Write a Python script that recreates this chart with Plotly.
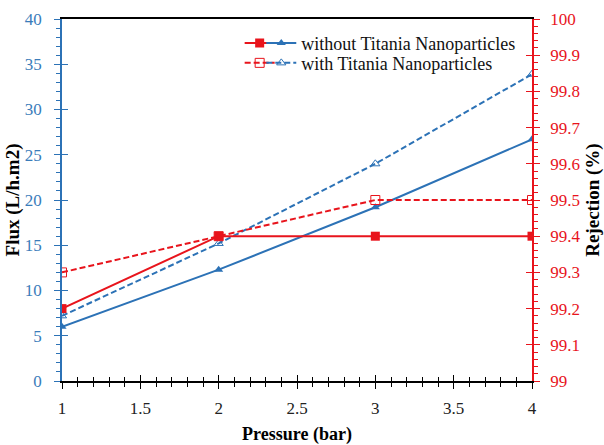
import plotly.graph_objects as go

pressure = [1, 2, 3, 4]
flux_without = [6.0, 12.3, 19.2, 26.7]
flux_with = [7.2, 15.2, 24.0, 33.9]
rej_without = [99.2, 99.4, 99.4, 99.4]
rej_with = [99.3, 99.4, 99.5, 99.5]

RED = "#e8141c"
BLUE = "#2c72b6"
BLUE_TXT = "#3a7cba"
FONT = "Liberation Serif, Times New Roman, serif"

fig = go.Figure()

fig.add_trace(go.Scatter(x=pressure, y=rej_without, mode="lines+markers", yaxis="y2",
                         line=dict(color=RED, width=2),
                         marker=dict(symbol="square", size=9, color=RED),
                         name=" ", legend="legend"))
fig.add_trace(go.Scatter(x=pressure, y=rej_with, mode="lines+markers", yaxis="y2",
                         line=dict(color=RED, width=2, dash="6px,3px"),
                         marker=dict(symbol="square-open", size=9, color=RED),
                         name=" ", legend="legend3"))
fig.add_trace(go.Scatter(x=pressure, y=flux_without, mode="lines+markers", yaxis="y",
                         line=dict(color=BLUE, width=2),
                         marker=dict(symbol="triangle-up", size=8, color=BLUE),
                         name="without Titania Nanoparticles", legend="legend2"))
fig.add_trace(go.Scatter(x=pressure, y=flux_with, mode="lines+markers", yaxis="y",
                         line=dict(color=BLUE, width=2, dash="6px,3px"),
                         marker=dict(symbol="triangle-up-open", size=8, color=BLUE),
                         name="with Titania Nanoparticles", legend="legend4"))

xtitlefont = dict(family=FONT, size=18, color="black", weight="bold")
ytitlefont = dict(family=FONT, size=19, color="black", weight="bold")
leg_common = dict(bgcolor="rgba(0,0,0,0)", font=dict(family=FONT, size=18, color="#111"),
                  itemwidth=30, yanchor="middle", xanchor="left")

RED_LEG_X = 0.378
BLUE_LEG_X = 0.424
ROW1_Y = 0.933
ROW2_Y = 0.878

fig.update_layout(
    width=604, height=445,
    margin=dict(l=62, r=72, t=19, b=64),
    paper_bgcolor="white", plot_bgcolor="white",
    font=dict(family=FONT, size=17),
    showlegend=True,
    xaxis=dict(range=[1, 4], dtick=0.5, tick0=1, showgrid=False, zeroline=False,
               showline=True, linecolor="black", linewidth=1.5, mirror=True,
               ticks="outside", ticklen=6, tickcolor="black", ticklabelstandoff=5,
               automargin=False,
               minor=dict(dtick=0.1, ticks="outside", ticklen=4, tickcolor="black"),
               tickfont=dict(family=FONT, size=17, color="#222"),
               title=dict(text="Pressure (bar)", font=xtitlefont, standoff=12)),
    xaxis2=dict(range=[1, 4], dtick=0.5, tick0=1, overlaying="x", showgrid=False,
                zeroline=False, showticklabels=False, ticks="inside", ticklen=6,
                tickcolor="black", side="bottom", automargin=False,
                minor=dict(dtick=0.1, ticks="inside", ticklen=4, tickcolor="black")),
    yaxis=dict(range=[0, 40], dtick=5, showgrid=False, zeroline=False,
               showline=True, linecolor=BLUE, linewidth=1.5, automargin=False,
               ticks="outside", ticklen=6, tickcolor=BLUE, ticklabelstandoff=9,
               minor=dict(dtick=1, ticks="outside", ticklen=4, tickcolor=BLUE),
               tickfont=dict(family=FONT, size=17, color=BLUE_TXT),
               title=dict(text="Flux (L/h.m2)", font=ytitlefont, standoff=0)),
    yaxis3=dict(range=[0, 40], dtick=5, overlaying="y", side="left", showgrid=False,
                zeroline=False, showticklabels=False, ticks="inside", ticklen=6,
                tickcolor=BLUE, automargin=False),
    yaxis2=dict(range=[99, 100], dtick=0.1, tick0=99, overlaying="y", side="right",
                showgrid=False, zeroline=False, showline=True, linecolor=RED,
                linewidth=1.5, ticks="outside", ticklen=6, tickcolor=RED,
                ticklabelstandoff=7, automargin=False,
                minor=dict(dtick=0.02, ticks="outside", ticklen=4, tickcolor=RED),
                tickfont=dict(family=FONT, size=17, color=RED),
                title=dict(text="Rejection (%)", font=ytitlefont, standoff=16)),
    yaxis4=dict(range=[99, 100], dtick=0.1, tick0=99, overlaying="y", side="right",
                showgrid=False, zeroline=False, showticklabels=False,
                ticks="inside", ticklen=6, tickcolor=RED, automargin=False),
    legend=dict(x=RED_LEG_X, y=ROW1_Y, **leg_common),
    legend2=dict(x=BLUE_LEG_X, y=ROW1_Y, **leg_common),
    legend3=dict(x=RED_LEG_X, y=ROW2_Y, **leg_common),
    legend4=dict(x=BLUE_LEG_X, y=ROW2_Y, **leg_common),
)

# empty traces so the overlay tick axes are drawn
fig.add_trace(go.Scatter(x=[None], y=[None], xaxis="x2", yaxis="y3", showlegend=False, hoverinfo="skip"))
fig.add_trace(go.Scatter(x=[None], y=[None], xaxis="x2", yaxis="y4", showlegend=False, hoverinfo="skip"))

fig.write_html("out.html", config={"displayModeBar": False},
               post_script="document.body.style.margin='0';")
